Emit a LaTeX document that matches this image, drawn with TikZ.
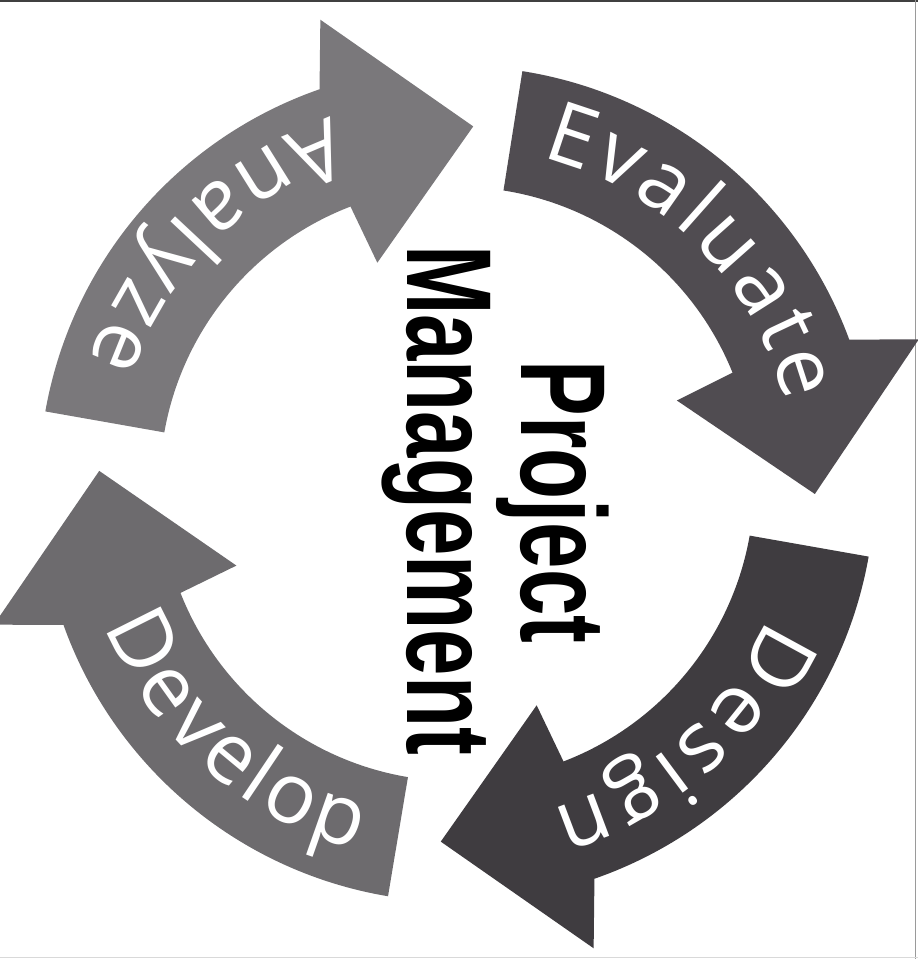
\documentclass[tikz,border=0pt]{standalone}
\usepackage{fontspec}
\usetikzlibrary{decorations.text}
\newfontfamily\ringfont{Open Sans}
\newfontfamily\pmfont[FakeStretch=0.69]{Liberation Sans}
\definecolor{pmanalyze}{HTML}{7A787B}
\definecolor{pmevaluate}{HTML}{504C51}
\definecolor{pmdesign}{HTML}{3F3C40}
\definecolor{pmdevelop}{HTML}{6D6B6E}
\definecolor{pmframe}{HTML}{9A9A9A}

\begin{document}
\begin{tikzpicture}[
  every node/.style={font=\pmfont\bfseries\fontsize{86}{90}\selectfont},
  title/.style={rotate=-90, anchor=base, inner sep=0pt, text=black},
  ringlabel/.style={decorate, decoration={text along path, text align=fit to path, text color=white, text={|\ringfont\fontsize{60}{60}\selectfont|#1}}},
]
\useasboundingbox (-11.425,-11.875) rectangle (11.525,12.1);

% Frame of the scan
\draw[line width=1.5pt, black!75] (-11.425,12.07) -- (11.525,12.07);
\draw[pmframe, line width=0.6pt] (11.45,12.1) -- (11.45,-11.875);
\draw[black!15, line width=0.6pt] (-11.425,-11.83) -- (11.525,-11.83);

% Cycle arrows
\fill[pmanalyze] (170:10.45) arc[start angle=170, end angle=109.2, radius=10.45] -- (106.4:12.1) -- (87.4:8.95) -- (109.8:5.88) -- (111:7.43) arc[start angle=111, end angle=170, radius=7.43] -- cycle;
\fill[pmevaluate] (81:10.45) arc[start angle=81, end angle=20.2, radius=10.45] -- (17.4:12.1) -- (-1.6:8.95) -- (20.8:5.88) -- (22:7.43) arc[start angle=22, end angle=81, radius=7.43] -- cycle;
\fill[pmdesign] (-10:10.45) arc[start angle=-10, end angle=-70.8, radius=10.45] -- (-73.6:12.1) -- (-92.6:8.95) -- (-70.2:5.88) -- (-69:7.43) arc[start angle=-69, end angle=-10, radius=7.43] -- cycle;
\fill[pmdevelop] (260.5:10.45) arc[start angle=260.5, end angle=199.7, radius=10.45] -- (196.9:12.1) -- (177.9:8.95) -- (200.3:5.88) -- (201.5:7.43) arc[start angle=201.5, end angle=260.5, radius=7.43] -- cycle;

% Labels on the arrows
\path[ringlabel=Analyze] (109:9.7) arc[start angle=109, end angle=161.5, radius=9.7];
\path[ringlabel=Evaluate] (75.5:8.45) arc[start angle=75.5, end angle=14, radius=8.45];
\path[ringlabel=Design] (-23.4:8.45) arc[start angle=-23.4, end angle=-73.7, radius=8.45];
\path[ringlabel=Develop] (202:9.5) arc[start angle=202, end angle=254.5, radius=9.5];

% Centre title
\node[title] (proj) at (1.625,-0.45) {Project};
\node[title] (mgmt) at (-1.225,-0.4) {Management};
\end{tikzpicture}
\end{document}
